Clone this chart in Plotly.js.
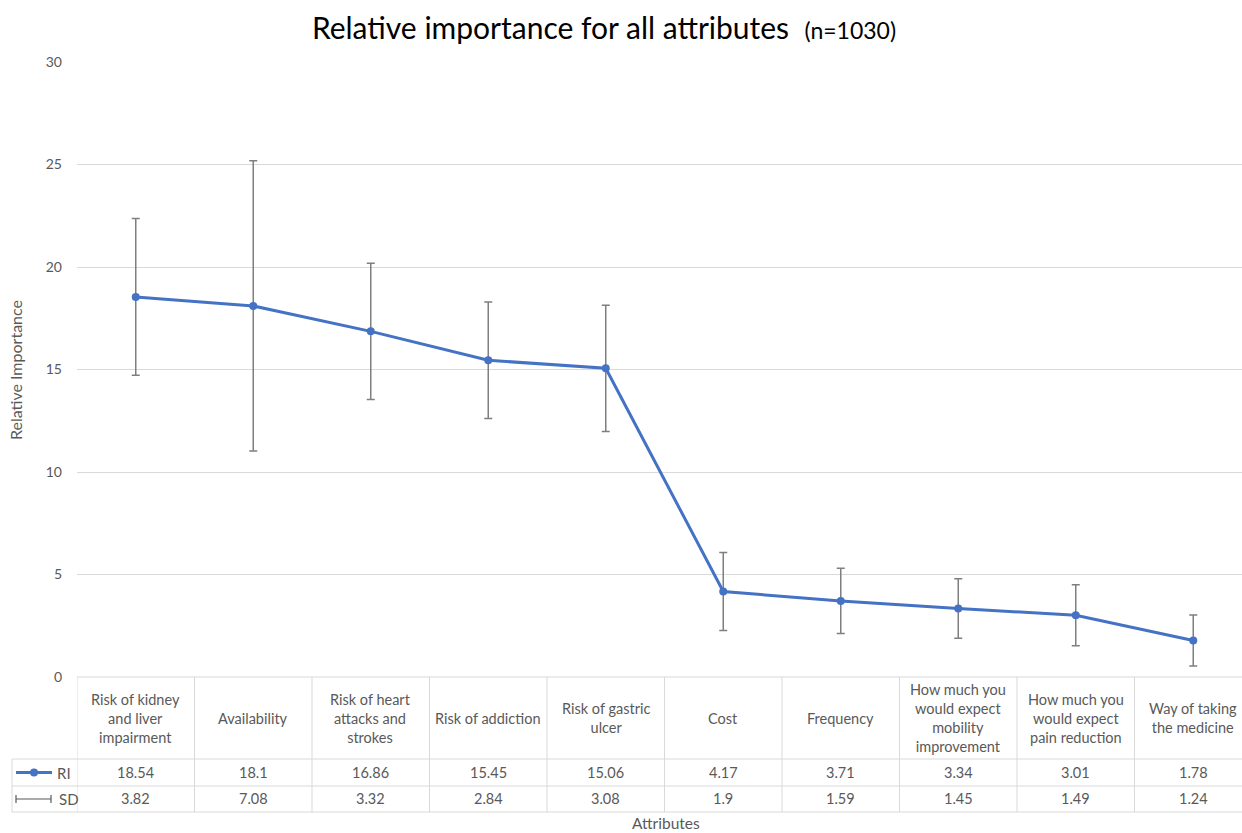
<!DOCTYPE html>
<html>
<head>
<meta charset="utf-8">
<script src="https://cdn.plot.ly/plotly-3.0.1.min.js"></script>
<style>
  html, body { margin: 0; padding: 0; background: #fff; }
  #chart { width: 1242px; height: 833px; }
</style>
</head>
<body>
<div id="chart"></div>
<script>
// ---- data ----
const categories = [
  "Risk of kidney<br>and liver<br>impairment",
  "Availability",
  "Risk of heart<br>attacks and<br>strokes",
  "Risk of addiction",
  "Risk of gastric<br>ulcer",
  "Cost",
  "Frequency",
  "How much you<br>would expect<br>mobility<br>improvement",
  "How much you<br>would expect<br>pain reduction",
  "Way of taking<br>the medicine"
];
const riValues = [18.54, 18.1, 16.86, 15.45, 15.06, 4.17, 3.71, 3.34, 3.01, 1.78];
const sdValues = [3.82, 7.08, 3.32, 2.84, 3.08, 1.9, 1.59, 1.45, 1.49, 1.24];
const yTicks = [0, 5, 10, 15, 20, 25, 30];

// ---- geometry (pixels) ----
const W = 1242, H = 833;
const plotL = 77, plotT = 62, plotB = 677;
const plotH = plotB - plotT;
const colW = 117.5;
const xMax = -0.5 + (W - plotL) / colW;
const py = p => (plotB - p) / plotH;          // pixel y -> paper y
const px = p => (p - plotL) / (W - plotL);    // pixel x -> paper x

const FONT = "Lato, 'Open Sans', sans-serif";
const GREY = "#595959";
const LINE = "#d9d9d9";
const BLUE = "#4472C4";

const idx = categories.map((_, i) => i);

const trace = {
  x: idx,
  y: riValues,
  type: "scatter",
  mode: "lines+markers",
  line: { color: BLUE, width: 3 },
  marker: { color: BLUE, size: 8 },
  error_y: {
    type: "data",
    array: sdValues,
    visible: true,
    color: "#7f7f7f",
    thickness: 1.5,
    width: 4
  },
  hoverinfo: "x+y",
  showlegend: false
};

// table rows (pixel y)
const headerTop = 677, headerBot = 759, riBot = 786, sdBot = 812;
const legendL = 12;

const shapes = [];
const annotations = [];

// horizontal table lines
shapes.push({
  type: "line", xref: "paper", yref: "paper",
  x0: 0, x1: 1.01, y0: py(headerTop), y1: py(headerTop),
  line: { color: LINE, width: 1 }
});
[headerBot, riBot, sdBot].forEach(yy => shapes.push({
  type: "line", xref: "paper", yref: "paper",
  x0: px(legendL), x1: 1.01, y0: py(yy), y1: py(yy),
  line: { color: LINE, width: 1 }
}));
// vertical lines: column boundaries
for (let i = 0; i <= categories.length; i++) {
  shapes.push({
    type: "line", xref: "x", yref: "paper",
    x0: i - 0.5, x1: i - 0.5, y0: py(headerTop), y1: py(sdBot),
    line: { color: LINE, width: 1 }
  });
}
// legend column left border
shapes.push({
  type: "line", xref: "paper", yref: "paper",
  x0: px(legendL), x1: px(legendL), y0: py(headerBot), y1: py(sdBot),
  line: { color: LINE, width: 1 }
});

// legend key: RI line + marker
const riY = py((headerBot + riBot) / 2);
const sdY = py((riBot + sdBot) / 2);
shapes.push({
  type: "line", xref: "paper", yref: "paper",
  x0: px(16), x1: px(52), y0: riY, y1: riY,
  line: { color: BLUE, width: 3 }
});
shapes.push({
  type: "circle", xref: "paper", yref: "paper",
  x0: px(30), x1: px(38), y0: riY - 4 / plotH, y1: riY + 4 / plotH,
  fillcolor: BLUE, line: { color: BLUE, width: 0 }
});
// legend key: SD error bar
shapes.push({
  type: "line", xref: "paper", yref: "paper",
  x0: px(16), x1: px(51), y0: sdY, y1: sdY,
  line: { color: "#595959", width: 1.2 }
});
[16, 51].forEach(xx => shapes.push({
  type: "line", xref: "paper", yref: "paper",
  x0: px(xx), x1: px(xx), y0: sdY - 4 / plotH, y1: sdY + 4 / plotH,
  line: { color: "#595959", width: 1.2 }
}));

annotations.push({
  xref: "paper", yref: "paper", x: px(55), y: riY, xanchor: "left", yanchor: "middle",
  text: "RI", showarrow: false, font: { family: FONT, size: 15, color: GREY }
});
annotations.push({
  xref: "paper", yref: "paper", x: px(57), y: sdY, xanchor: "left", yanchor: "middle",
  text: "SD", showarrow: false, font: { family: FONT, size: 15, color: GREY }
});

// table cell texts
categories.forEach((c, i) => {
  annotations.push({
    xref: "x", yref: "paper", x: i, y: py((headerTop + headerBot) / 2),
    xanchor: "center", yanchor: "middle", text: c, showarrow: false, align: "center",
    font: { family: FONT, size: 14.5, color: GREY }
  });
  annotations.push({
    xref: "x", yref: "paper", x: i, y: riY,
    xanchor: "center", yanchor: "middle", text: String(riValues[i]), showarrow: false,
    font: { family: FONT, size: 14.5, color: GREY }
  });
  annotations.push({
    xref: "x", yref: "paper", x: i, y: sdY,
    xanchor: "center", yanchor: "middle", text: String(sdValues[i]), showarrow: false,
    font: { family: FONT, size: 14.5, color: GREY }
  });
});

// x-axis title
annotations.push({
  xref: "paper", yref: "paper", x: px(666), y: py(823),
  xanchor: "center", yanchor: "middle", text: "Attributes", showarrow: false,
  font: { family: FONT, size: 15.5, color: GREY }
});
// y-axis title
annotations.push({
  xref: "paper", yref: "paper", x: px(16), y: py(370),
  xanchor: "center", yanchor: "middle", text: "Relative Importance", textangle: -90,
  showarrow: false, font: { family: FONT, size: 16, color: GREY }
});

const layout = {
  width: W, height: H,
  margin: { l: plotL, r: 0, t: plotT, b: H - plotB, pad: 0 },
  paper_bgcolor: "#ffffff",
  plot_bgcolor: "#ffffff",
  font: { family: FONT, color: GREY },
  title: {
    text: 'Relative importance for all attributes  <span style="font-size:23px">(n=1030)</span>',
    font: { family: FONT, size: 30, color: "#000000" },
    xref: "container", yref: "container",
    x: 604 / W, y: 1 - 28 / H, xanchor: "center", yanchor: "middle"
  },
  xaxis: {
    range: [-0.5, xMax],
    showticklabels: false,
    showgrid: false, zeroline: false, showline: false, ticks: "",
    fixedrange: true
  },
  yaxis: {
    range: [0, 30],
    tickvals: yTicks,
    ticktext: yTicks.map(String),
    showgrid: true, gridcolor: LINE, gridwidth: 1,
    zeroline: false, showline: false, ticks: "",
    ticklabelstandoff: 14,
    tickfont: { family: FONT, size: 14, color: GREY },
    fixedrange: true
  },
  shapes: shapes,
  annotations: annotations,
  showlegend: false
};

Plotly.newPlot("chart", [trace], layout, { displayModeBar: false, staticPlot: true });
</script>
</body>
</html>
